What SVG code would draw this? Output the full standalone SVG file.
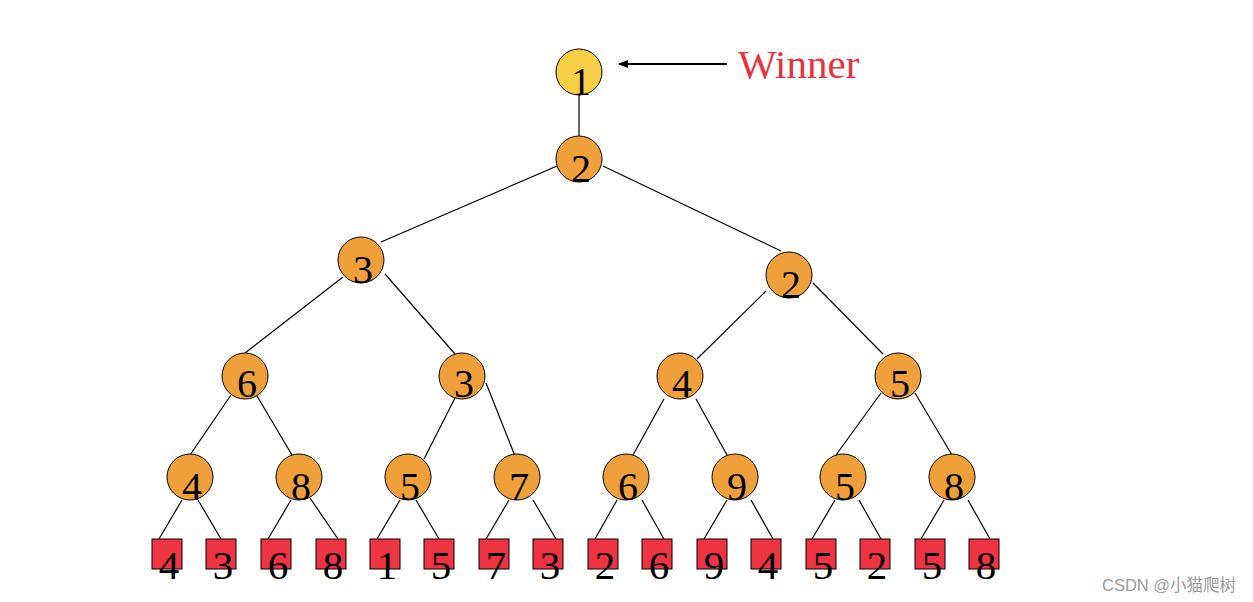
<svg xmlns="http://www.w3.org/2000/svg" width="1253" height="602" viewBox="0 0 1253 602">
<style>
.e{stroke:#000;stroke-width:1.2;fill:none}
.c{fill:#F0A03A;stroke:#000;stroke-width:1}
.r{fill:#F8CF46;stroke:#000;stroke-width:1}
.s{fill:#EE3442;stroke:#000;stroke-width:1}
.t{font-family:"Liberation Serif","Times New Roman",serif;font-size:40px;fill:#000;text-anchor:middle}
.l{font-family:"Liberation Serif","Times New Roman",serif;font-size:41px;fill:#000;text-anchor:middle}
</style>
<defs>
<marker id="ah" markerWidth="10" markerHeight="8" refX="9" refY="4" orient="auto" markerUnits="userSpaceOnUse">
<path d="M0,0 L10,4 L0,8 Z" fill="#000"/>
</marker>
</defs>
<rect width="1253" height="602" fill="#fff"/>
<g id="connectors">
<line class="e" x1="579" y1="95" x2="579" y2="136"/>
<line class="e" x1="557" y1="166" x2="381" y2="242"/>
<line class="e" x1="603" y1="166" x2="781" y2="251"/>
<line class="e" x1="343" y1="277" x2="245" y2="353"/>
<line class="e" x1="385" y1="274" x2="455" y2="354"/>
<line class="e" x1="766" y1="291" x2="697" y2="359"/>
<line class="e" x1="813" y1="283" x2="883" y2="354"/>
<line class="e" x1="231" y1="395" x2="190" y2="455"/>
<line class="e" x1="257" y1="396" x2="292" y2="455"/>
<line class="e" x1="455" y1="398" x2="424" y2="459"/>
<line class="e" x1="486" y1="383" x2="517" y2="461"/>
<line class="e" x1="664" y1="399" x2="633" y2="455"/>
<line class="e" x1="696" y1="399" x2="727" y2="455"/>
<line class="e" x1="881" y1="393" x2="836" y2="455"/>
<line class="e" x1="915" y1="393" x2="952" y2="455"/>
<line class="e" x1="182" y1="500" x2="159" y2="539"/>
<line class="e" x1="198" y1="500" x2="221" y2="539"/>
<line class="e" x1="291" y1="500" x2="268" y2="539"/>
<line class="e" x1="310" y1="498" x2="338" y2="539"/>
<line class="e" x1="400" y1="500" x2="377" y2="539"/>
<line class="e" x1="416" y1="500" x2="439" y2="539"/>
<line class="e" x1="509" y1="500" x2="486" y2="539"/>
<line class="e" x1="533" y1="500" x2="556" y2="539"/>
<line class="e" x1="617" y1="500" x2="595" y2="539"/>
<line class="e" x1="642" y1="500" x2="664" y2="539"/>
<line class="e" x1="727" y1="500" x2="704" y2="539"/>
<line class="e" x1="751" y1="500" x2="773" y2="539"/>
<line class="e" x1="835" y1="500" x2="812" y2="539"/>
<line class="e" x1="859" y1="500" x2="881" y2="539"/>
<line class="e" x1="944" y1="500" x2="921" y2="539"/>
<line class="e" x1="968" y1="500" x2="990" y2="539"/>
<line x1="727" y1="64" x2="619" y2="64" stroke="#000" stroke-width="2" marker-end="url(#ah)"/>
</g>
<g id="n-root"><circle class="r" cx="579" cy="72" r="23"/><text class="t" x="581" y="95">1</text></g>
<g id="winner"><text x="738" y="78" font-family="'Liberation Serif','Times New Roman',serif" font-size="41" fill="#E8333F">Winner</text></g>
<g id="n-2"><circle class="c" cx="579" cy="159" r="23"/><text class="t" x="581" y="182">2</text></g>
<g id="n-3a"><circle class="c" cx="361" cy="260" r="23"/><text class="t" x="363" y="283">3</text></g>
<g id="n-2b"><circle class="c" cx="789" cy="275" r="23"/><text class="t" x="791" y="298">2</text></g>
<g id="n-6a"><circle class="c" cx="245" cy="376" r="23"/><text class="t" x="247" y="397">6</text></g>
<g id="n-3b"><circle class="c" cx="462" cy="376" r="23"/><text class="t" x="464" y="397">3</text></g>
<g id="n-4a"><circle class="c" cx="680" cy="376" r="23"/><text class="t" x="682" y="397">4</text></g>
<g id="n-5a"><circle class="c" cx="898" cy="376" r="23"/><text class="t" x="900" y="397">5</text></g>
<g id="n-4b"><circle class="c" cx="190" cy="477" r="23"/><text class="t" x="192" y="500">4</text></g>
<g id="n-8a"><circle class="c" cx="299" cy="477" r="23"/><text class="t" x="301" y="500">8</text></g>
<g id="n-5b"><circle class="c" cx="408" cy="477" r="23"/><text class="t" x="410" y="500">5</text></g>
<g id="n-7a"><circle class="c" cx="517" cy="477" r="23"/><text class="t" x="519" y="500">7</text></g>
<g id="n-6b"><circle class="c" cx="626" cy="477" r="23"/><text class="t" x="628" y="500">6</text></g>
<g id="n-9a"><circle class="c" cx="735" cy="477" r="23"/><text class="t" x="737" y="500">9</text></g>
<g id="n-5c"><circle class="c" cx="843" cy="477" r="23"/><text class="t" x="845" y="500">5</text></g>
<g id="n-8b"><circle class="c" cx="952" cy="477" r="23"/><text class="t" x="954" y="500">8</text></g>
<g id="leaf-1"><rect class="s" x="152" y="539" width="30" height="30"/><text class="l" x="169" y="579">4</text></g>
<g id="leaf-2"><rect class="s" x="206" y="539" width="30" height="30"/><text class="l" x="223" y="579">3</text></g>
<g id="leaf-3"><rect class="s" x="261" y="539" width="30" height="30"/><text class="l" x="278" y="579">6</text></g>
<g id="leaf-4"><rect class="s" x="316" y="539" width="30" height="30"/><text class="l" x="333" y="579">8</text></g>
<g id="leaf-5"><rect class="s" x="370" y="539" width="30" height="30"/><text class="l" x="387" y="579">1</text></g>
<g id="leaf-6"><rect class="s" x="424" y="539" width="30" height="30"/><text class="l" x="441" y="579">5</text></g>
<g id="leaf-7"><rect class="s" x="479" y="539" width="30" height="30"/><text class="l" x="496" y="579">7</text></g>
<g id="leaf-8"><rect class="s" x="533" y="539" width="30" height="30"/><text class="l" x="550" y="579">3</text></g>
<g id="leaf-9"><rect class="s" x="588" y="539" width="30" height="30"/><text class="l" x="605" y="579">2</text></g>
<g id="leaf-10"><rect class="s" x="642" y="539" width="30" height="30"/><text class="l" x="659" y="579">6</text></g>
<g id="leaf-11"><rect class="s" x="697" y="539" width="30" height="30"/><text class="l" x="714" y="579">9</text></g>
<g id="leaf-12"><rect class="s" x="751" y="539" width="30" height="30"/><text class="l" x="768" y="579">4</text></g>
<g id="leaf-13"><rect class="s" x="806" y="539" width="30" height="30"/><text class="l" x="823" y="579">5</text></g>
<g id="leaf-14"><rect class="s" x="860" y="539" width="30" height="30"/><text class="l" x="877" y="579">2</text></g>
<g id="leaf-15"><rect class="s" x="915" y="539" width="30" height="30"/><text class="l" x="932" y="579">5</text></g>
<g id="leaf-16"><rect class="s" x="969" y="539" width="30" height="30"/><text class="l" x="986" y="579">8</text></g>
<g id="watermark"><text x="1102" y="591" font-family="'Liberation Sans','Noto Sans CJK SC',sans-serif" font-size="16.5" fill="#9a9a9a">CSDN @小猫爬树</text></g>
</svg>
